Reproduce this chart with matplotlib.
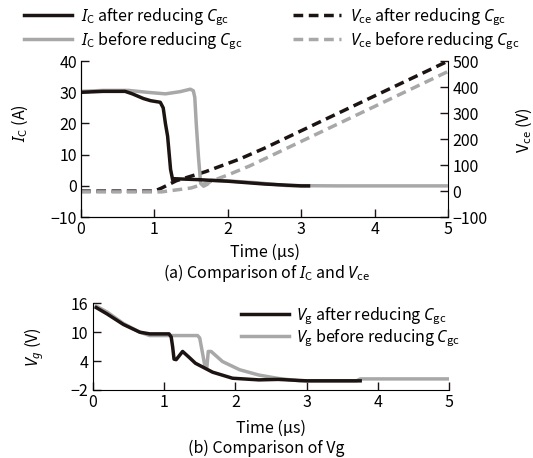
import numpy as np
import matplotlib
matplotlib.use('Agg')
import matplotlib.pyplot as plt

# 글꼴 설정
plt.rcParams['font.family'] = ['Noto Sans CJK SC', 'DejaVu Sans']
plt.rcParams['mathtext.fontset'] = 'custom'
plt.rcParams['mathtext.rm'] = 'Noto Sans CJK SC'
plt.rcParams['mathtext.it'] = 'Noto Sans:italic'
plt.rcParams['font.size'] = 11.5

BLACK = '#1c1412'
GRAY = '#a8a8a8'

# (a) 컬렉터 전류 Ic (A)
ic_after_t = [0, 0.3, 0.6, 0.7, 0.85, 0.95, 1.08, 1.12, 1.15, 1.18, 1.22, 1.25, 1.27, 1.6, 2.0, 2.5, 3.0, 3.1]
ic_after = [30.0, 30.3, 30.3, 29.5, 28.0, 27.3, 26.8, 25.0, 20.0, 15.9, 5.3, 1.8, 2.3, 2.0, 1.5, 0.6, 0.0, 0.0]
ic_before_t = [0, 0.3, 0.65, 0.9, 1.15, 1.35, 1.49, 1.53, 1.55, 1.57, 1.6, 1.63, 1.67, 1.72, 1.77, 2.0, 2.4, 2.8, 3.5, 5.0]
ic_before = [30.3, 30.6, 30.6, 30.0, 29.5, 30.2, 31.0, 30.5, 28.4, 20.0, 9.4, 0.8, -0.1, 0.5, 1.8, 1.6, 1.0, 0.1, 0.0, 0.0]

# (a) 컬렉터-이미터 전압 Vce (V)
vce_after_t = [0, 1.0, 1.1, 1.3, 1.7, 2.15, 2.5, 5.0]
vce_after = [0, 0, 12, 40, 75, 122, 165, 500]
vce_before_t = [0, 1.1, 1.5, 1.7, 2.0, 2.3, 5.0]
vce_before = [-3, -3, 12, 30, 62, 97, 460]

# (b) 게이트 전압 Vg (V)
vg_after_t = [0.05, 0.2, 0.43, 0.66, 0.8, 1.07, 1.1, 1.12, 1.14, 1.17, 1.26, 1.35, 1.44, 1.68, 1.96, 2.33, 2.6, 3.0, 3.75]
vg_after = [15.1, 13.8, 11.6, 10.0, 9.65, 9.65, 9.0, 7.0, 4.4, 4.3, 6.0, 4.8, 3.55, 1.7, 0.44, 0.1, 0.2, -0.1, -0.1]
vg_before_t = [0.05, 0.2, 0.43, 0.66, 0.8, 1.47, 1.5, 1.54, 1.57, 1.6, 1.62, 1.66, 1.82, 2.06, 2.33, 2.6, 2.9, 3.7, 3.75, 5.0]
vg_before = [15.4, 14.2, 11.8, 10.0, 9.3, 9.3, 8.8, 5.6, 3.2, 2.7, 6.0, 6.0, 3.9, 2.2, 1.1, 0.4, -0.1, -0.1, 0.3, 0.3]

time_ticks = [0, 1, 2, 3, 4, 5]

fig = plt.figure(figsize=(5.33, 4.58), dpi=100)

# 위쪽 그래프 (a)
ax1 = fig.add_axes([0.152, 0.526, 0.6885, 0.3406])
ax2 = ax1.twinx()
dash = (2.8, 1.6)
l3, = ax2.plot(vce_after_t, vce_after, color=BLACK, lw=2.5, dashes=dash,
               label=r'$V_{\mathrm{ce}}$ after reducing $C_{\mathrm{gc}}$')
l4, = ax2.plot(vce_before_t, vce_before, color=GRAY, lw=2.5, dashes=dash,
               label=r'$V_{\mathrm{ce}}$ before reducing $C_{\mathrm{gc}}$')
l2, = ax1.plot(ic_before_t, ic_before, color=GRAY, lw=2.5,
               label=r'$I_{\mathrm{C}}$ before reducing $C_{\mathrm{gc}}$')
l1, = ax1.plot(ic_after_t, ic_after, color=BLACK, lw=2.5,
               label=r'$I_{\mathrm{C}}$ after reducing $C_{\mathrm{gc}}$')
ax1.set_zorder(ax2.get_zorder() + 1)
ax1.patch.set_visible(False)

ax1.set_xlim(0, 5)
ax1.set_ylim(-10, 40)
ax1.set_yticks([-10, 0, 10, 20, 30, 40])
ax1.set_xticks(time_ticks)
ax2.set_ylim(-100, 500)
ax2.set_yticks([-100, 0, 100, 200, 300, 400, 500])
for ax in (ax1, ax2):
    ax.spines['top'].set_visible(False)
    ax.tick_params(direction='in', length=6, width=1, color=BLACK, pad=3)
ax1.spines['right'].set_visible(False)
ax1.set_ylabel(r'$I_{\mathrm{C}}$ (A)')
ax1.yaxis.set_label_coords(-0.14, 0.6)
ax2.set_ylabel(r'$\mathrm{V}_{\mathrm{ce}}$ (V)')
ax2.yaxis.set_label_coords(1.18, 0.56)
ax1.set_xlabel('Time (µs)', labelpad=4)

fig.legend(handles=[l1, l2, l3, l4], ncol=2, loc='upper left',
           bbox_to_anchor=(0.018, 1.018), frameon=False,
           handlelength=3.0, handletextpad=0.55, columnspacing=3.2,
           labelspacing=0.2)

fig.text(0.5, 0.404, r'(a) Comparison of $I_{\mathrm{C}}$ and $V_{\mathrm{ce}}$',
         ha='center', va='center')

# 아래쪽 그래프 (b)
ax3 = fig.add_axes([0.174, 0.1485, 0.669, 0.1893])
ax3.plot(vg_before_t, vg_before, color=GRAY, lw=2.5,
         label=r'$V_{\mathrm{g}}$ before reducing $C_{\mathrm{gc}}$')
ax3.plot(vg_after_t, vg_after, color=BLACK, lw=2.5,
         label=r'$V_{\mathrm{g}}$ after reducing $C_{\mathrm{gc}}$')
ax3.set_xlim(0, 5)
ax3.set_ylim(-2, 16)
ax3.set_yticks([-2, 4, 10, 16])
ax3.set_xticks(time_ticks)
ax3.spines['top'].set_visible(False)
ax3.spines['right'].set_visible(False)
ax3.tick_params(direction='in', length=6, width=1, color=BLACK, pad=3)
ax3.set_ylabel(r'$V_g$ (V)')
ax3.yaxis.set_label_coords(-0.13, 0.5)
ax3.set_xlabel('Time (µs)', labelpad=6)
h, lab = ax3.get_legend_handles_labels()
ax3.legend(h[::-1], lab[::-1], loc='upper left', bbox_to_anchor=(0.375, 1.14),
           frameon=False, handlelength=3.0, handletextpad=0.45, labelspacing=0.05)

fig.text(0.5, 0.022, '(b) Comparison of Vg', ha='center', va='center')

fig.savefig('out.png', dpi=100)
